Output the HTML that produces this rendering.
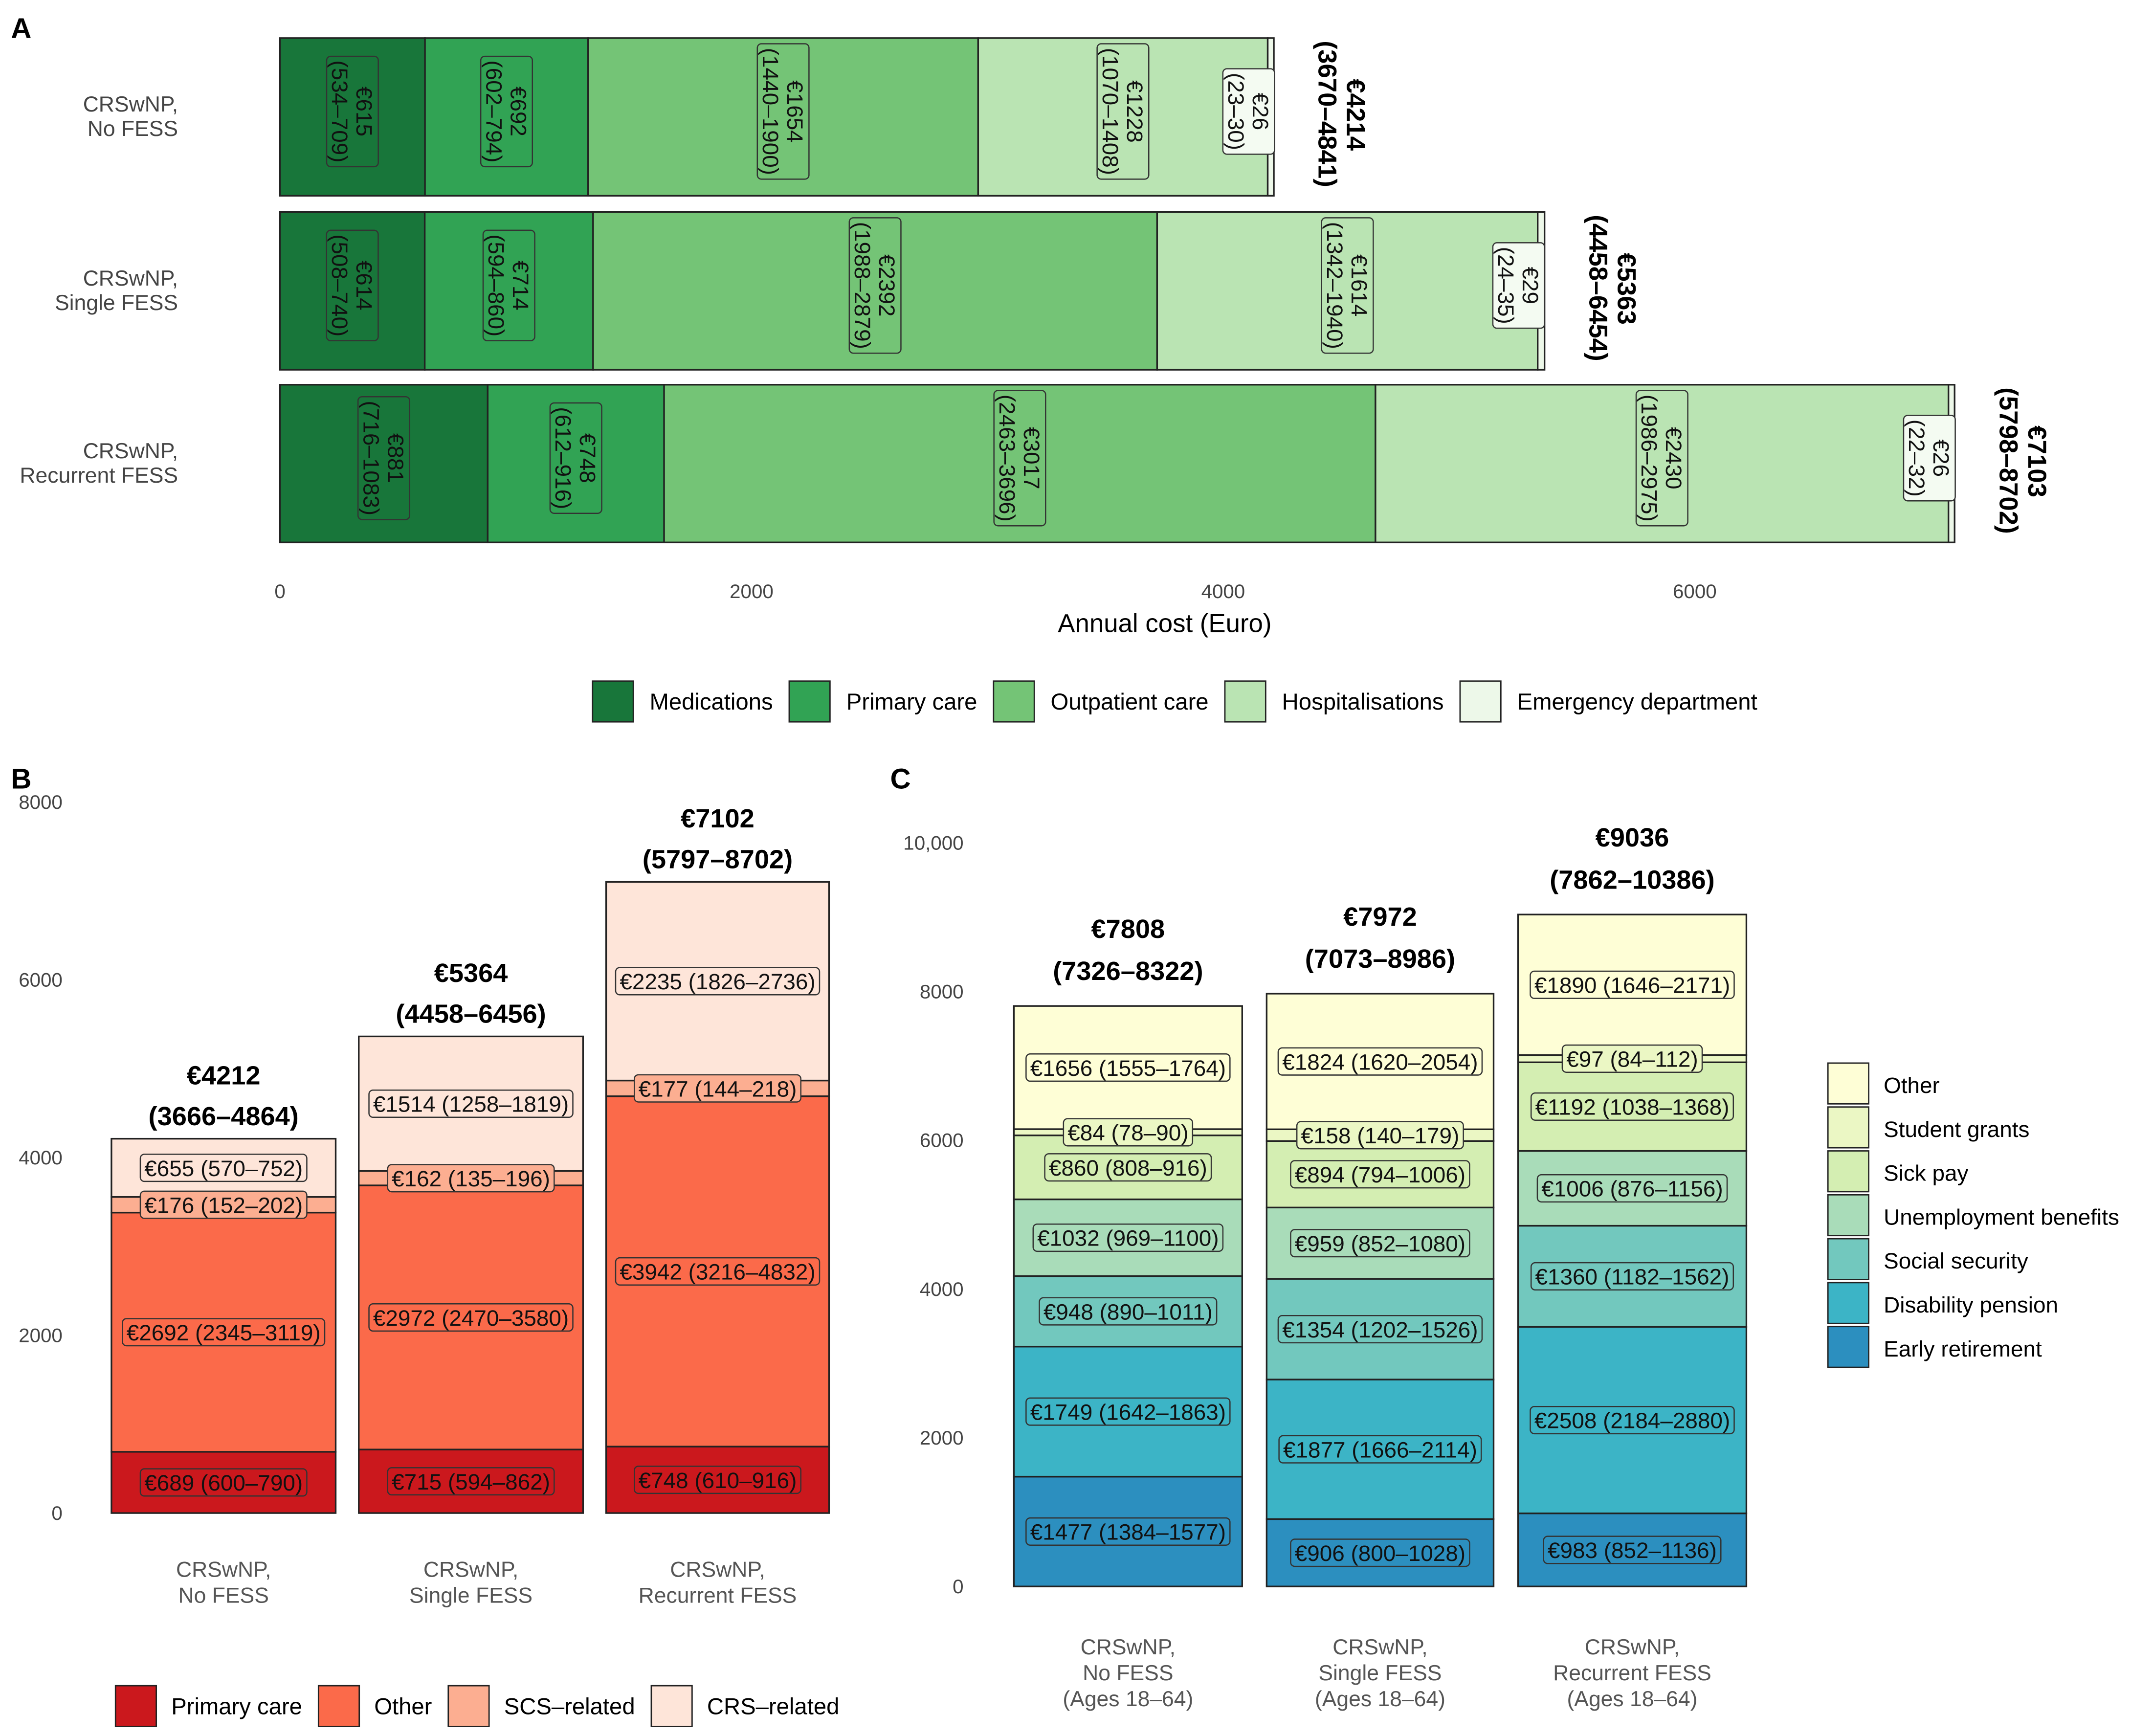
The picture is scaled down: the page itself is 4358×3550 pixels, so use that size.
<!DOCTYPE html>
<html><head><meta charset="utf-8"><style>
html,body{margin:0;padding:0;background:#fff}
svg{display:block}
text{font-family:"Liberation Sans",sans-serif}
</style></head><body>
<svg id="svg" width="4358" height="3550" viewBox="0 0 1568 1277" preserveAspectRatio="none" xmlns="http://www.w3.org/2000/svg">
<g id="A"></g>
<g id="B"></g>
<g id="C"></g>
</svg>
<script>
// Panel A data
const aCats=[["CRSwNP,","No FESS"],["CRSwNP,","Single FESS"],["CRSwNP,","Recurrent FESS"]];
const aSeries=["Medications","Primary care","Outpatient care","Hospitalisations","Emergency department"];
const aValues=[[615,692,1654,1228,26],[614,714,2392,1614,29],[881,748,3017,2430,26]];
const aCI=[["534–709","602–794","1440–1900","1070–1408","23–30"],["508–740","594–860","1988–2879","1342–1940","24–35"],["716–1083","612–916","2463–3696","1986–2975","22–32"]];
const aTotals=[4214,5363,7103];
const aTotCI=["3670–4841","4458–6454","5798–8702"];
const aTicks=[0,2000,4000,6000];
// Panel B data
const bCats=[["CRSwNP,","No FESS"],["CRSwNP,","Single FESS"],["CRSwNP,","Recurrent FESS"]];
const bSeries=["Primary care","Other","SCS–related","CRS–related"];
const bValues=[[689,2692,176,655],[715,2972,162,1514],[748,3942,177,2235]];
const bCI=[["600–790","2345–3119","152–202","570–752"],["594–862","2470–3580","135–196","1258–1819"],["610–916","3216–4832","144–218","1826–2736"]];
const bTotals=[4212,5364,7102];
const bTotCI=["3666–4864","4458–6456","5797–8702"];
const bTicks=[0,2000,4000,6000,8000];
// Panel C data
const cCats=[["CRSwNP,","No FESS","(Ages 18–64)"],["CRSwNP,","Single FESS","(Ages 18–64)"],["CRSwNP,","Recurrent FESS","(Ages 18–64)"]];
const cSeries=["Early retirement","Disability pension","Social security","Unemployment benefits","Sick pay","Student grants","Other"];
const cValues=[[1477,1749,948,1032,860,84,1656],[906,1877,1354,959,894,158,1824],[983,2508,1360,1006,1192,97,1890]];
const cCI=[["1384–1577","1642–1863","890–1011","969–1100","808–916","78–90","1555–1764"],["800–1028","1666–2114","1202–1526","852–1080","794–1006","140–179","1620–2054"],["852–1136","2184–2880","1182–1562","876–1156","1038–1368","84–112","1646–2171"]];
const cTotals=[7808,7972,9036];
const cTotCI=["7326–8322","7073–8986","7862–10386"];
const cTicks=[0,2000,4000,6000,8000,10000];
const cTickLabels=["0","2000","4000","6000","8000","10,000"];

const NS="http://www.w3.org/2000/svg";
function el(p,tag,attrs,txt){const e=document.createElementNS(NS,tag);for(const k in attrs)e.setAttribute(k,attrs[k]);if(txt!==undefined)e.textContent=txt;p.appendChild(e);return e;}
const aCol=["#18763a","#31a354","#74c476","#bae4b3","#edf8e9"];
const bCol=["#cb181d","#fb6a4a","#fcae91","#fee5d9"];
const cCol=["#2c8fbf","#3cb4c6","#72c8be","#a9dcb9","#d4eeb2","#ebf7c4","#fefed6"];

function labelBox(g,cx,cy,lines,fill,rot,name){
  const grp=el(g,"g",{transform:`translate(${cx},${cy}) rotate(${rot})`});
  
  
  const r=el(grp,"rect",{fill:fill,stroke:"#333","stroke-width":0.9,rx:3});
  const lh=18; const n=lines.length; let w=0;
  lines.forEach((s,i)=>{const t=el(grp,"text",{x:0,y:(i-(n-1)/2)*lh+6,"text-anchor":"middle","font-size":16.5,fill:"#111"},s);w=Math.max(w,t.getComputedTextLength());});
  r.setAttribute("x",-w/2-3);r.setAttribute("y",-n*lh/2-1);r.setAttribute("width",w+6);r.setAttribute("height",n*lh+2);
}

// ---------- Panel A ----------
(function(){
const g=document.getElementById("A");
el(g,"text",{x:8,y:28,"font-size":21,"font-weight":"bold"},"A");
const x0=206,sx=347/2000;
const X=v=>x0+v*sx;
const rows=[[28,144],[156,272],[283,399]];
aTicks.forEach(t=>{const tt=el(g,"text",{x:X(t),y:440,"text-anchor":"middle","font-size":14.5,fill:"#444"},t);});
const at=el(g,"text",{x:857,y:465,"text-anchor":"middle","font-size":19},"Annual cost (Euro)");

aValues.forEach((vals,i)=>{
  const [y1,y2]=rows[i];let c=0;
  aCats[i].forEach((s,k)=>{const t=el(g,"text",{x:131,y:(y1+y2)/2-4+k*18,"text-anchor":"end","font-size":16,fill:"#444"},s);});
  vals.forEach((v,j)=>{
    const r=el(g,"rect",{x:X(c),y:y1,width:v*sx,height:y2-y1,fill:aCol[j],stroke:"#222","stroke-width":1.2});
    
    c+=v;
  });
  c=0;
  vals.forEach((v,j)=>{
    let cx=X(c+v/2); if(j===4) cx=X(c)-14;
    labelBox(g,cx,(y1+y2)/2-4,["€"+v,"("+aCI[i][j]+")"],j===4?"#f4fbf2":aCol[j],90,'segment-label');
    c+=v;
  });
  const tg=el(g,"g",{transform:`translate(${X(aTotals[i])+64},${y1+2}) rotate(90)`});
  
  el(tg,"text",{x:28,y:10,"font-size":19,"font-weight":"bold"},"€"+aTotals[i]);
  el(tg,"text",{x:0,y:31,"font-size":19,"font-weight":"bold"},"("+aTotCI[i]+")");
});
// legend
let lx=436;
aSeries.forEach((s,j)=>{
  const lg=el(g,"g",{});
  el(lg,"rect",{x:lx,y:501,width:30,height:30,fill:aCol[j],stroke:"#222","stroke-width":1});
  const t=el(lg,"text",{x:lx+42,y:522,"font-size":17},s);
  lx+=42+t.getComputedTextLength()+12;
});
})();

// ---------- Panel B ----------
(function(){
const g=document.getElementById("B");
el(g,"text",{x:8,y:580,"font-size":21,"font-weight":"bold"},"B");
const y0=1113,sy=523/8000;const Y=v=>y0-v*sy;
bTicks.forEach(t=>{const tt=el(g,"text",{x:46,y:Y(t)+5,"text-anchor":"end","font-size":14.5,fill:"#444"},t);});
const bx=[[82,247],[264,429],[446,610]];
bValues.forEach((vals,i)=>{
  const [x1,x2]=bx[i];const cx=(x1+x2)/2;let c=0;
  vals.forEach((v,j)=>{const r=el(g,"rect",{x:x1,y:Y(c+v),width:x2-x1,height:v*sy,fill:bCol[j],stroke:"#222","stroke-width":1.2});c+=v;});
  c=0;
  vals.forEach((v,j)=>{labelBox(g,cx,Y(c+v/2),["€"+v+" ("+bCI[i][j]+")"],bCol[j],0,'segment-label');c+=v;});
  const tot=Y(bTotals[i]);
  const t1=el(g,"text",{x:cx,y:tot-40,"text-anchor":"middle","font-size":19.5,"font-weight":"bold"},"€"+bTotals[i]);
  const t2=el(g,"text",{x:cx,y:tot-10,"text-anchor":"middle","font-size":19.5,"font-weight":"bold"},"("+bTotCI[i]+")");
  bCats[i].forEach((s,k)=>{const t=el(g,"text",{x:cx,y:1160+k*19,"text-anchor":"middle","font-size":16,fill:"#555"},s);});
});
let lx=85;
bSeries.forEach((s,j)=>{
  const lg=el(g,"g",{});
  el(lg,"rect",{x:lx,y:1240,width:30,height:30,fill:bCol[j],stroke:"#222","stroke-width":1});
  const t=el(lg,"text",{x:lx+41,y:1261,"font-size":17},s);
  lx+=41+t.getComputedTextLength()+12;
});
})();

// ---------- Panel C ----------
(function(){
const g=document.getElementById("C");
el(g,"text",{x:655,y:580,"font-size":21,"font-weight":"bold"},"C");
const y0=1167,sy=547/10000;const Y=v=>y0-v*sy;
cTicks.forEach((t,k)=>{const tt=el(g,"text",{x:709,y:Y(t)+5,"text-anchor":"end","font-size":14.5,fill:"#444"},cTickLabels[k]);});
const cx_=[[746,914],[932,1099],[1117,1285]];
cValues.forEach((vals,i)=>{
  const [x1,x2]=cx_[i];const cx=(x1+x2)/2;let c=0;
  vals.forEach((v,j)=>{const r=el(g,"rect",{x:x1,y:Y(c+v),width:x2-x1,height:v*sy,fill:cCol[j],stroke:"#222","stroke-width":1.2});c+=v;});
  c=0;
  vals.forEach((v,j)=>{labelBox(g,cx,Y(c+v/2),["€"+v+" ("+cCI[i][j]+")"],cCol[j],0,'segment-label');c+=v;});
  const tot=Y(cTotals[i]);
  const t1=el(g,"text",{x:cx,y:tot-50,"text-anchor":"middle","font-size":19.5,"font-weight":"bold"},"€"+cTotals[i]);
  const t2=el(g,"text",{x:cx,y:tot-19,"text-anchor":"middle","font-size":19.5,"font-weight":"bold"},"("+cTotCI[i]+")");
  cCats[i].forEach((s,k)=>{const t=el(g,"text",{x:cx,y:1217+k*19,"text-anchor":"middle","font-size":16,fill:"#555"},s);});
});
for(let j=cSeries.length-1,k=0;j>=0;j--,k++){
  const lg=el(g,"g",{});
  el(lg,"rect",{x:1345,y:782+k*32.3,width:30,height:30,fill:cCol[j],stroke:"#222","stroke-width":1});
  el(lg,"text",{x:1386,y:804+k*32.3,"font-size":16.5},cSeries[j]);
}
})();
</script>
</body></html>
